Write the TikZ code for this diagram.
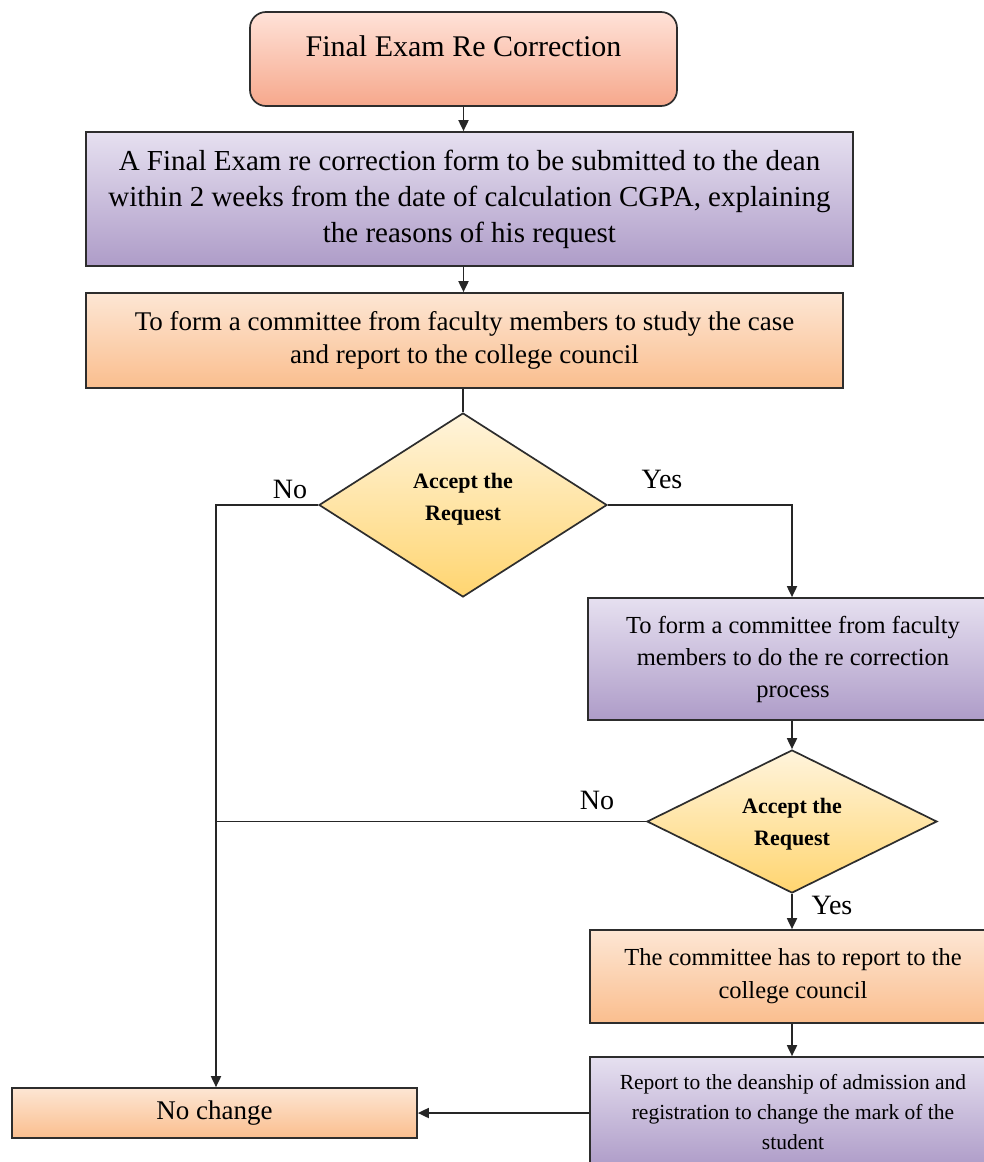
\documentclass[tikz,border=0pt]{standalone}
\usepackage{fontspec}
\setmainfont{Liberation Serif}
\usetikzlibrary{arrows.meta,shapes.geometric}
\definecolor{titleTop}{RGB}{255,226,216}
\definecolor{titleBot}{RGB}{246,168,140}
\definecolor{purpleTop}{RGB}{230,224,240}
\definecolor{purpleBot}{RGB}{174,156,200}
\definecolor{orangeTop}{RGB}{253,230,212}
\definecolor{orangeBot}{RGB}{250,190,142}
\definecolor{diaTop}{RGB}{255,244,220}
\definecolor{diaBot}{RGB}{255,213,112}
\definecolor{edge}{RGB}{45,45,45}
\begin{document}
\begin{tikzpicture}[x=1pt,y=-1pt,
  box/.style={draw=edge, line width=1.7pt, inner sep=0pt, align=center},
  purplebox/.style={box, top color=purpleTop, bottom color=purpleBot},
  orangebox/.style={box, top color=orangeTop, bottom color=orangeBot},
  decision/.style={box, diamond, top color=diaTop, bottom color=diaBot},
  dtext/.style={font=\fontsize{22}{32}\selectfont\bfseries, align=center, inner sep=0pt},
  flow/.style={line width=1.8pt, draw=black!85},
  arr/.style={flow, -{Triangle[length=11pt,width=10pt]}},
  lbl/.style={font=\fontsize{28}{30}\selectfont, inner sep=0pt}
]
\clip (0,0) rectangle (984,1162);
\fill[white] (0,0) rectangle (984,1162);

% start
\node[box, rounded corners=16pt, top color=titleTop, bottom color=titleBot,
      minimum width=427pt, minimum height=94pt] (title) at (463.5,59) {};
\node[font=\fontsize{30}{32}\selectfont, inner sep=0pt] (titletext) at (463.5,46) {Final Exam Re Correction};

% request form
\node[purplebox, minimum width=767pt, minimum height=134pt,
      font=\fontsize{29}{36}\selectfont] (b2) at (469.5,199)
  {A Final Exam re correction form to be submitted to the dean\\
   within 2 weeks from the date of calculation CGPA, explaining\\
   the reasons of his request};

% study committee
\node[orangebox, minimum width=757pt, minimum height=95pt,
      font=\fontsize{27}{33}\selectfont] (b3) at (464.5,340.5)
  {To form a committee from faculty members to study the case\\
   and report to the college council};

% first decision
\node[decision, minimum width=288pt, minimum height=184pt] (d1) at (463,505) {};
\node[dtext] (d1text) at (463,499) {Accept the\\Request};

% re correction committee
\node[purplebox, minimum width=410pt, minimum height=122pt,
      font=\fontsize{24.5}{32}\selectfont] (b4) at (793,659)
  {To form a committee from faculty\\ members to do the re correction\\ process};

% second decision
\node[decision, minimum width=290pt, minimum height=143pt] (d2) at (792,821.5) {};
\node[dtext] (d2text) at (792,824) {Accept the\\Request};

% report to council
\node[orangebox, minimum width=406pt, minimum height=93pt,
      font=\fontsize{24.5}{33}\selectfont] (b5) at (793,976.5)
  {The committee has to report to the\\ college council};

% report to deanship
\node[purplebox, minimum width=406pt, minimum height=110pt,
      font=\fontsize{21.5}{30}\selectfont] (b6) at (793,1112)
  {Report to the deanship of admission and\\ registration to change the mark of the\\ student};

% no change
\node[orangebox, minimum width=405pt, minimum height=50pt,
      font=\fontsize{27}{28}\selectfont] (nochange) at (214.5,1113) {No change};

% connectors
\coordinate (nocorner) at (216,505);
\coordinate (yescorner) at (792,505);
\draw[arr] (title.south) -- (title.south |- b2.north);
\draw[arr] (title.south |- b2.south) -- (title.south |- b3.north);
\draw[flow] (d1.north |- b3.south) -- (d1.north);
\draw[arr] (d1.west) -- (nocorner) -- (nocorner |- nochange.north);
\draw[arr] (d1.east) -- (yescorner) -- (yescorner |- b4.north);
\draw[arr] (d2.north |- b4.south) -- (d2.north);
\draw[flow] (d2.west) -- (nocorner |- d2.west);
\draw[arr] (d2.south) -- (d2.south |- b5.north);
\draw[arr] (d2.south |- b5.south) -- (d2.south |- b6.north);
\draw[arr] (b6.west |- nochange.east) -- (nochange.east);

% branch labels
\node[lbl] (no1) at (290,489) {No};
\node[lbl] (yes1) at (662,479) {Yes};
\node[lbl] (no2) at (597,800) {No};
\node[lbl] (yes2) at (832,905) {Yes};
\end{tikzpicture}
\end{document}
